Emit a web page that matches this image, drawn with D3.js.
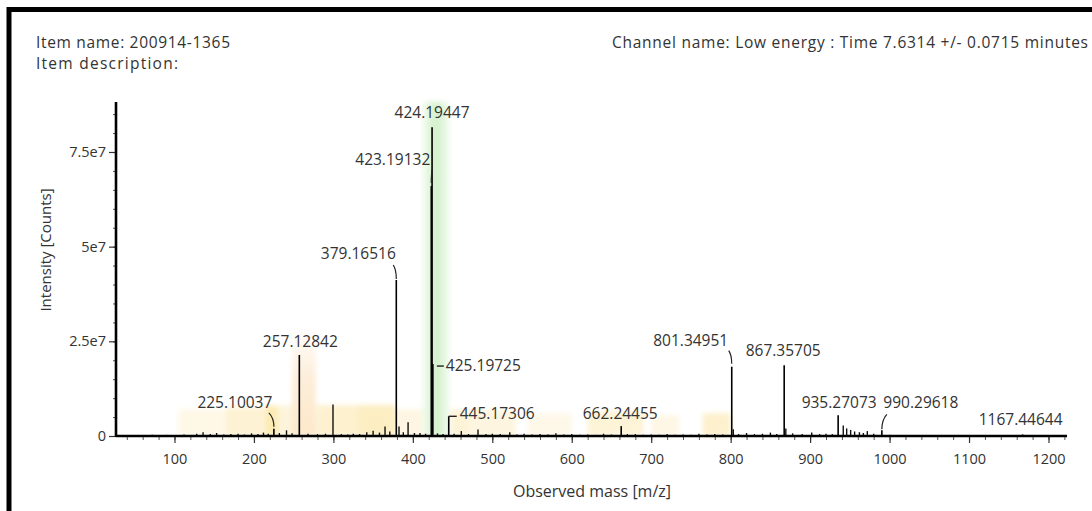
<!DOCTYPE html>
<html>
<head>
<meta charset="utf-8">
<script src="https://cdn.jsdelivr.net/npm/d3@7/dist/d3.min.js"></script>
<style>
  html, body { margin: 0; padding: 0; background: #fff; }
  svg { display: block; }
  text { font-family: "Open Sans", "Noto Sans", sans-serif; fill: #333; }
</style>
</head>
<body>
<svg id="chart" width="1092" height="511"></svg>
<script>
// ---------------- data ----------------
const itemName = "Item name: 200914-1365";
const itemDescription = "Item description:";
const channelText = "Channel name: Low energy : Time 7.6314 +/- 0.0715 minutes";
const xAxisTitle = "Observed mass [m/z]";
const yAxisTitle = "Intensity [Counts]";

const xTickValues = [100, 200, 300, 400, 500, 600, 700, 800, 900, 1000, 1100, 1200];
const yTickValues = [0, 2.5e7, 5e7, 7.5e7];
const yTickLabels = ["0", "2.5e7", "5e7", "7.5e7"];

// labelled peaks (m/z, intensity)
const labelledMz = [225.10037, 257.12842, 379.16516, 423.19132, 424.19447, 425.19725,
                    445.17306, 662.24455, 801.34951, 867.35705, 935.27073, 990.29618, 1167.44644];
const labelledIntensity = [1.9e6, 2.14e7, 4.12e7, 6.6e7, 8.15e7, 1.9e7,
                           5.2e6, 2.6e6, 1.83e7, 1.87e7, 5.5e6, 1.5e6, 0.4e6];

// unlabelled peaks (m/z, intensity)
const minorMz = [40, 55, 72, 90, 112, 128, 136, 145, 153, 162, 171, 180, 188, 197, 205, 212, 218,
                 232, 241, 248, 268, 280, 290, 299.5, 310, 318, 325, 333, 342, 350, 358, 365, 371,
                 382.6, 388, 394, 402, 409, 416, 431, 438, 452, 461, 470, 482, 492, 500, 510, 522,
                 531, 540, 550, 560, 570, 580, 590, 600, 610, 620, 630, 640, 650, 670, 680, 690,
                 700, 710, 720, 730, 740, 750, 760, 770, 780, 790, 803.3, 810, 820, 830, 840, 850,
                 858, 869.4, 878, 890, 902, 912, 920, 928, 941.7, 946, 951, 956, 962, 967, 972,
                 980, 1000, 1015, 1040, 1060, 1080, 1110, 1140, 1190];
const minorIntensity = [0.2e6, 0.2e6, 0.3e6, 0.3e6, 0.4e6, 0.6e6, 1.0e6, 0.5e6, 0.8e6, 0.4e6, 0.5e6, 0.6e6, 0.4e6, 0.7e6, 0.5e6, 0.9e6, 0.6e6,
                        0.8e6, 1.5e6, 0.7e6, 0.6e6, 0.5e6, 0.6e6, 8.3e6, 0.5e6, 0.4e6, 0.6e6, 0.5e6, 1.0e6, 1.4e6, 0.9e6, 2.5e6, 1.2e6,
                        2.5e6, 1.0e6, 3.6e6, 0.8e6, 0.8e6, 0.6e6, 0.7e6, 0.5e6, 0.6e6, 1.3e6, 0.5e6, 1.7e6, 0.5e6, 0.6e6, 0.5e6, 1.0e6,
                        0.4e6, 0.6e6, 0.4e6, 0.5e6, 0.4e6, 0.7e6, 0.4e6, 0.5e6, 0.3e6, 0.4e6, 0.3e6, 0.6e6, 0.4e6, 0.5e6, 0.5e6, 0.3e6,
                        0.4e6, 0.3e6, 0.5e6, 0.3e6, 0.4e6, 0.3e6, 0.6e6, 0.4e6, 0.5e6, 0.4e6, 1.8e6, 0.5e6, 0.8e6, 0.5e6, 0.6e6, 0.9e6,
                        0.5e6, 2.0e6, 0.7e6, 0.5e6, 0.9e6, 0.5e6, 0.6e6, 0.5e6, 2.8e6, 2.0e6, 1.6e6, 1.2e6, 1.0e6, 0.8e6, 1.3e6,
                        0.6e6, 0.3e6, 0.2e6, 0.2e6, 0.2e6, 0.2e6, 0.2e6, 0.2e6, 0.2e6];

// highlighted regions: m/z start, m/z end, top intensity
const bandStart = [105, 165, 215, 230, 282, 330, 378, 448, 470, 545, 620, 700, 765];
const bandEnd   = [165, 215, 245, 282, 330, 378, 414, 470, 530, 600, 690, 735, 800];
const bandTop   = [7e6, 7.5e6, 8e6, 8e6, 8.2e6, 8.2e6, 7e6, 7e6, 7e6, 6e6, 6.5e6, 5.5e6, 6e6];
const bandColor = ["#fef8e6", "#fdf2d3", "#fcebb2", "#fdf4db", "#fdf1cf", "#fceec2", "#fef6e2",
                   "#fdf3d6", "#fdf5df", "#fef8e9", "#fdf3d6", "#fef7e6", "#fdf0cc"];
const peachBand = [248, 278, 2.9e7];
const greenBand = [412, 446, 8.82e7];

// ---------------- layout ----------------
const svg = d3.select("#chart");
const plot = { left: 116, right: 1067, top: 102, bottom: 436 };

const x = d3.scaleLinear().domain([26.4, 1223.3]).range([plot.left, plot.right]);
const y = d3.scaleLinear().domain([0, 8.82e7]).range([plot.bottom, plot.top]);

const defs = svg.append("defs");
const gg = defs.append("linearGradient").attr("id", "gGreen").attr("x1", 0).attr("x2", 1).attr("y1", 0).attr("y2", 0);
gg.append("stop").attr("offset", "0%").attr("stop-color", "#f5fcf3");
gg.append("stop").attr("offset", "38%").attr("stop-color", "#d7f2cf");
gg.append("stop").attr("offset", "62%").attr("stop-color", "#d7f2cf");
gg.append("stop").attr("offset", "100%").attr("stop-color", "#f3fbf1");
const gp = defs.append("linearGradient").attr("id", "gPeach").attr("x1", 0).attr("x2", 0).attr("y1", 0).attr("y2", 1);
gp.append("stop").attr("offset", "0%").attr("stop-color", "#fdeedb").attr("stop-opacity", 0);
gp.append("stop").attr("offset", "45%").attr("stop-color", "#fdeedb").attr("stop-opacity", 1);
gp.append("stop").attr("offset", "100%").attr("stop-color", "#fde8c9").attr("stop-opacity", 1);
defs.append("filter").attr("id", "soft").attr("x", "-10%").attr("y", "-10%").attr("width", "120%").attr("height", "120%")
  .append("feGaussianBlur").attr("stdDeviation", 2.5);

// bands
const bandG = svg.append("g").attr("filter", "url(#soft)");
const bands = bandStart.map((s, i) => ({ s, e: bandEnd[i], t: bandTop[i], c: bandColor[i] }));
bandG.selectAll("rect").data(bands).join("rect")
  .attr("x", d => x(d.s)).attr("width", d => x(d.e) - x(d.s))
  .attr("y", d => y(d.t)).attr("height", d => y(0) - y(d.t))
  .attr("fill", d => d.c);
bandG.append("rect")
  .attr("x", x(peachBand[0])).attr("width", x(peachBand[1]) - x(peachBand[0]))
  .attr("y", y(peachBand[2])).attr("height", y(0) - y(peachBand[2]))
  .attr("fill", "url(#gPeach)");
bandG.append("rect")
  .attr("x", x(greenBand[0])).attr("width", x(greenBand[1]) - x(greenBand[0]))
  .attr("y", y(greenBand[2])).attr("height", y(0) - y(greenBand[2]))
  .attr("fill", "url(#gGreen)");

// peaks
const minorPeaks = minorMz.map((m, i) => ({ m, v: minorIntensity[i] }));
const majorPeaks = labelledMz.map((m, i) => ({ m, v: labelledIntensity[i] }));
svg.append("g").selectAll("line").data(minorPeaks).join("line")
  .attr("x1", d => x(d.m)).attr("x2", d => x(d.m))
  .attr("y1", y(0)).attr("y2", d => y(d.v))
  .attr("stroke", "#111").attr("stroke-width", 1.4);
svg.append("g").selectAll("line").data(majorPeaks).join("line")
  .attr("x1", d => x(d.m)).attr("x2", d => x(d.m))
  .attr("y1", y(0)).attr("y2", d => y(d.v))
  .attr("stroke", "#000").attr("stroke-width", 1.6);

// axes
const xAxis = svg.append("g").attr("transform", `translate(0,${plot.bottom})`);
xAxis.call(d3.axisBottom(x).tickValues(d3.range(40, 1221, 20)).tickSize(4).tickFormat(""))
  .call(g => g.select(".domain").remove())
  .call(g => g.selectAll("line").attr("stroke", "#555").attr("stroke-width", 1));
const xAxisMajor = svg.append("g").attr("transform", `translate(0,${plot.bottom})`);
xAxisMajor.call(d3.axisBottom(x).tickValues(xTickValues).tickSize(7).tickPadding(11).tickFormat(d3.format("d")))
  .call(g => g.select(".domain").remove())
  .call(g => g.selectAll("line").attr("stroke", "#333").attr("stroke-width", 1.2))
  .call(g => g.selectAll("text").attr("font-size", "14.5px").attr("fill", "#333").attr("font-family", "Open Sans"));
svg.append("line").attr("x1", plot.left).attr("x2", plot.right).attr("y1", plot.bottom).attr("y2", plot.bottom)
  .attr("stroke", "#000").attr("stroke-width", 2.6);

const yAxisMinor = svg.append("g").attr("transform", `translate(${plot.left},0)`);
yAxisMinor.call(d3.axisLeft(y).tickValues(d3.range(0, 8.6e7, 5e6)).tickSize(3).tickFormat(""))
  .call(g => g.select(".domain").remove())
  .call(g => g.selectAll("line").attr("stroke", "#555"));
const yAxisMajor = svg.append("g").attr("transform", `translate(${plot.left},0)`);
yAxisMajor.call(d3.axisLeft(y).tickValues(yTickValues).tickSize(7).tickPadding(3)
    .tickFormat((d, i) => yTickLabels[i]))
  .call(g => g.select(".domain").remove())
  .call(g => g.selectAll("line").attr("stroke", "#333").attr("stroke-width", 1.2))
  .call(g => g.selectAll("text").attr("font-size", "14.5px").attr("fill", "#333").attr("font-family", "Open Sans"));
svg.append("line").attr("x1", plot.left).attr("x2", plot.left).attr("y1", plot.top).attr("y2", plot.bottom + 1)
  .attr("stroke", "#000").attr("stroke-width", 2.6);

// axis titles
svg.append("text").attr("x", 592).attr("y", 497).attr("text-anchor", "middle")
  .attr("font-size", "16px").text(xAxisTitle);
svg.append("text").attr("transform", "translate(51,250) rotate(-90)").attr("text-anchor", "middle")
  .attr("font-size", "15px").text(yAxisTitle);

// header
svg.append("text").attr("x", 36).attr("y", 47.5).attr("font-size", "15.5px")
  .attr("textLength", 194).attr("lengthAdjust", "spacing").text(itemName);
svg.append("text").attr("x", 36).attr("y", 69).attr("font-size", "15.5px")
  .attr("textLength", 142).attr("lengthAdjust", "spacing").text(itemDescription);
svg.append("text").attr("x", 612).attr("y", 47.5).attr("font-size", "15.5px")
  .attr("textLength", 476).attr("lengthAdjust", "spacing").text(channelText);

// peak annotations (label placement relative to each peak)
const annot = {
  "424.19447": { dx: 0, dy: -9, anchor: "middle" },
  "423.19132": { dx: -1, dy: -21, anchor: "end", leader: [[1, -17], [0, -3]] },
  "379.16516": { dx: -38, dy: -21, anchor: "middle", leader: [[-3, -15], [0, -1]] },
  "257.12842": { dx: 1, dy: -8, anchor: "middle" },
  "225.10037": { dx: -39, dy: -21, anchor: "middle", leader: [[-5, -16], [0, -2]] },
  "425.19725": { dx: 13, dy: 7, anchor: "start", dash: [[4, 2], [11, 2]] },
  "445.17306": { dx: 11, dy: 3, anchor: "start", dash: [[0, 0], [8, 0]] },
  "662.24455": { dx: -1, dy: -7, anchor: "middle" },
  "801.34951": { dx: -41, dy: -21, anchor: "middle", leader: [[-3, -16], [0, -3]] },
  "867.35705": { dx: -1, dy: -9, anchor: "middle" },
  "935.27073": { dx: 1, dy: -7, anchor: "middle" },
  "990.29618": { dx: 39, dy: -22, anchor: "middle", leader: [[5, -16], [0, -1]] },
  "1167.44644": { dx: -2, dy: -9, anchor: "middle" }
};
const ann = svg.append("g");
majorPeaks.forEach(p => {
  const key = p.m.toFixed(5);
  const a = annot[key];
  const px = x(p.m), py = y(p.v);
  ann.append("text").attr("x", px + a.dx).attr("y", py + a.dy)
    .attr("text-anchor", a.anchor).attr("font-size", "15.5px").text(key);
  if (a.leader) {
    const [p0, p1] = a.leader;
    ann.append("path")
      .attr("d", `M${px + p0[0]},${py + p0[1]} Q${px + p1[0]},${py + (p0[1] + p1[1]) / 2 - 2} ${px + p1[0]},${py + p1[1]}`)
      .attr("fill", "none").attr("stroke", "#222").attr("stroke-width", 1.2);
  }
  if (a.dash) {
    const [d0, d1] = a.dash;
    ann.append("line").attr("x1", px + d0[0]).attr("x2", px + d1[0])
      .attr("y1", py + d0[1]).attr("y2", py + d1[1])
      .attr("stroke", "#222").attr("stroke-width", 1.4);
  }
});

// outer frame
svg.append("rect").attr("x", 9).attr("y", 9.5).attr("width", 1100).attr("height", 520)
  .attr("fill", "none").attr("stroke", "#000").attr("stroke-width", 5);
</script>
</body>
</html>
